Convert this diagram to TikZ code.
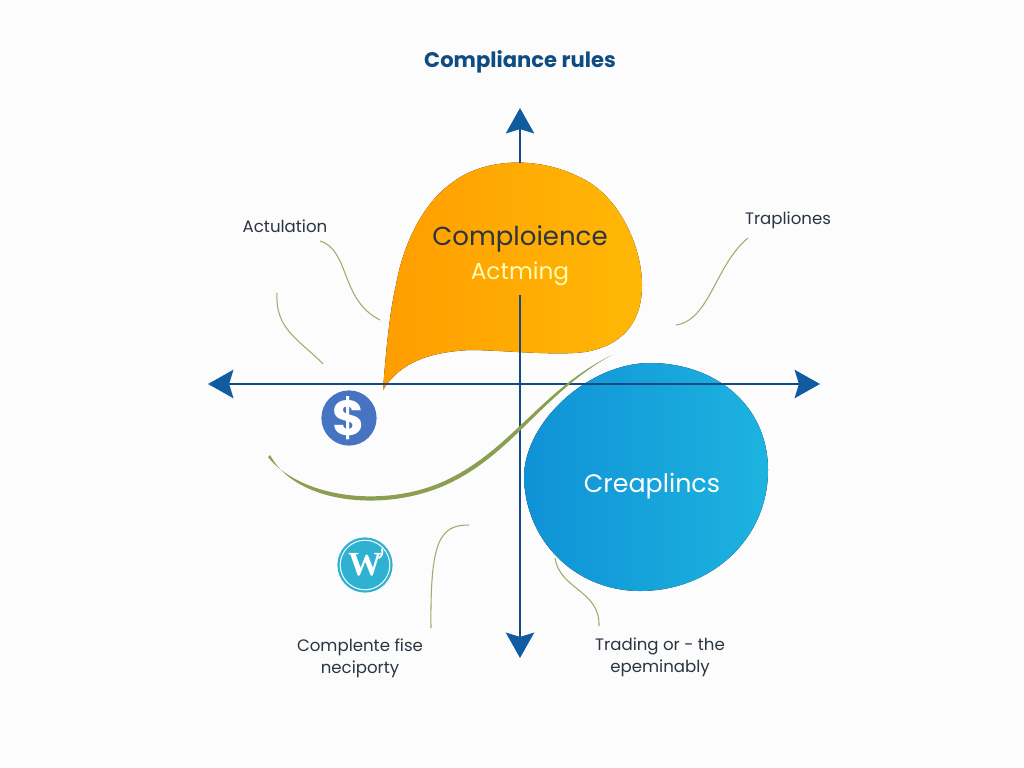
\documentclass[tikz,border=0pt]{standalone}
\usepackage{fontspec}
\setmainfont{Poppins}
\usetikzlibrary{arrows.meta}
\definecolor{axisblue}{HTML}{134A85}
\definecolor{headblue}{HTML}{115CA0}
\definecolor{titleblue}{HTML}{0F4C81}
\definecolor{vine}{HTML}{8C9F50}
\definecolor{inktext}{HTML}{2B3440}
\definecolor{orangeL}{HTML}{FF9D00}
\definecolor{orangeR}{HTML}{FFB806}
\definecolor{blueL}{HTML}{0F92D6}
\definecolor{blueR}{HTML}{1DB3DF}
\definecolor{dollarblue}{HTML}{4673C2}
\definecolor{wpblue}{HTML}{2FB2D2}
\tikzset{
  axistip/.tip={Stealth[color=headblue,width=20pt,length=18pt,inset=3pt]},
  axisline/.style={draw=axisblue,line width=2.1pt},
  thinvine/.style={draw=vine!85,line width=0.75pt},
  lbl/.style={font=\fontsize{11.8}{15.5}\selectfont,text=inktext,align=center,inner sep=0pt},
  medal/.style={circle,minimum size=1.38cm,inner sep=0pt,text=white}
}
\begin{document}
\begin{tikzpicture}[x=0.025cm,y=-0.025cm]
\useasboundingbox[fill=white!98!gray] (0,0) rectangle (1024,768);
% blobs
\fill[left color=orangeL,right color=orangeR] (383,390) .. controls (386,350) and (390,310) .. (396,285) .. controls (402,250) and (420,205) .. (453,182) .. controls (485,158) and (540,155) .. (585,180) .. controls (622,200) and (642,250) .. (642,285) .. controls (642,320) and (625,345) .. (585,352) .. controls (555,356) and (500,350) .. (470,350) .. controls (430,352) and (400,362) .. (383,390) -- cycle;
\fill[left color=blueL,right color=blueR] (524,475) .. controls (526,420) and (590,363) .. (650,363) .. controls (715,363) and (768,405) .. (768,470) .. controls (768,540) and (710,591) .. (640,591) .. controls (575,591) and (524,540) .. (524,475) -- cycle;
% axes
\coordinate (west) at (208,384);
\coordinate (east) at (820,384);
\coordinate (north) at (520,108);
\coordinate (south) at (520,658);
\coordinate (top) at (520,163);
\coordinate (mid) at (520,295);
\draw[axisline,axistip-axistip] (west) -- (east);
\draw[axisline,-axistip] (top) -- (north);
\draw[axisline,-axistip] (mid) -- (south);
% curves
\fill[vine] (268,457) .. controls (300,497) and (380,508) .. (440,483) .. controls (510,453) and (540,390) .. (612,355) .. controls (542,393) and (511,458) .. (441,487) .. controls (380,512) and (296,503) .. (270,455) -- cycle;
\draw[thinvine] (320,241) .. controls (350,250) and (340,300) .. (380,320);
\draw[thinvine] (277,293) .. controls (275,330) and (300,340) .. (323,364);
\draw[thinvine] (748,238) .. controls (715,265) and (710,320) .. (676,325);
\draw[thinvine] (469,525) .. controls (440,525) and (430,540) .. (431,628);
\draw[thinvine] (555,558) .. controls (560,590) and (600,590) .. (599,626);
% icons
\node[medal,fill=dollarblue,font=\fontsize{35}{35}\selectfont\bfseries] (dollar) at (349,418) {\$};
\node[medal,fill=wpblue,font=\fontsize{24}{24}\selectfont\bfseries\fontspec{Liberation Serif}] (wp) at (365,565) {W};
\draw[white,line width=0.7pt] (wp.center) circle (0.62cm);
\draw[white,line width=1.3pt,line cap=round] (382,549) .. controls (383,553) and (382,556) .. (379,558);
% text
\node[font=\fontsize{15}{22}\selectfont\bfseries,text=titleblue] (title) at (520,62) {Compliance rules};
\node[font=\fontsize{18.5}{23}\selectfont,text=inktext] (comp) at (520,239) {Comploience};
\node[font=\fontsize{16.5}{21}\selectfont,text=yellow!30] (act) at (520,274) {Actming};
\node[font=\fontsize{18}{23}\selectfont,text=white] (crea) at (652,486) {Creaplincs};
\node[lbl] (actu) at (285,226) {Actulation};
\node[lbl] (trap) at (788,220) {Trapliones};
\node[lbl] (cfn) at (360,658) {Complente fise\\neciporty};
\node[lbl] (trd) at (660,657) {Trading or - the\\epeminably};
\end{tikzpicture}
\end{document}
